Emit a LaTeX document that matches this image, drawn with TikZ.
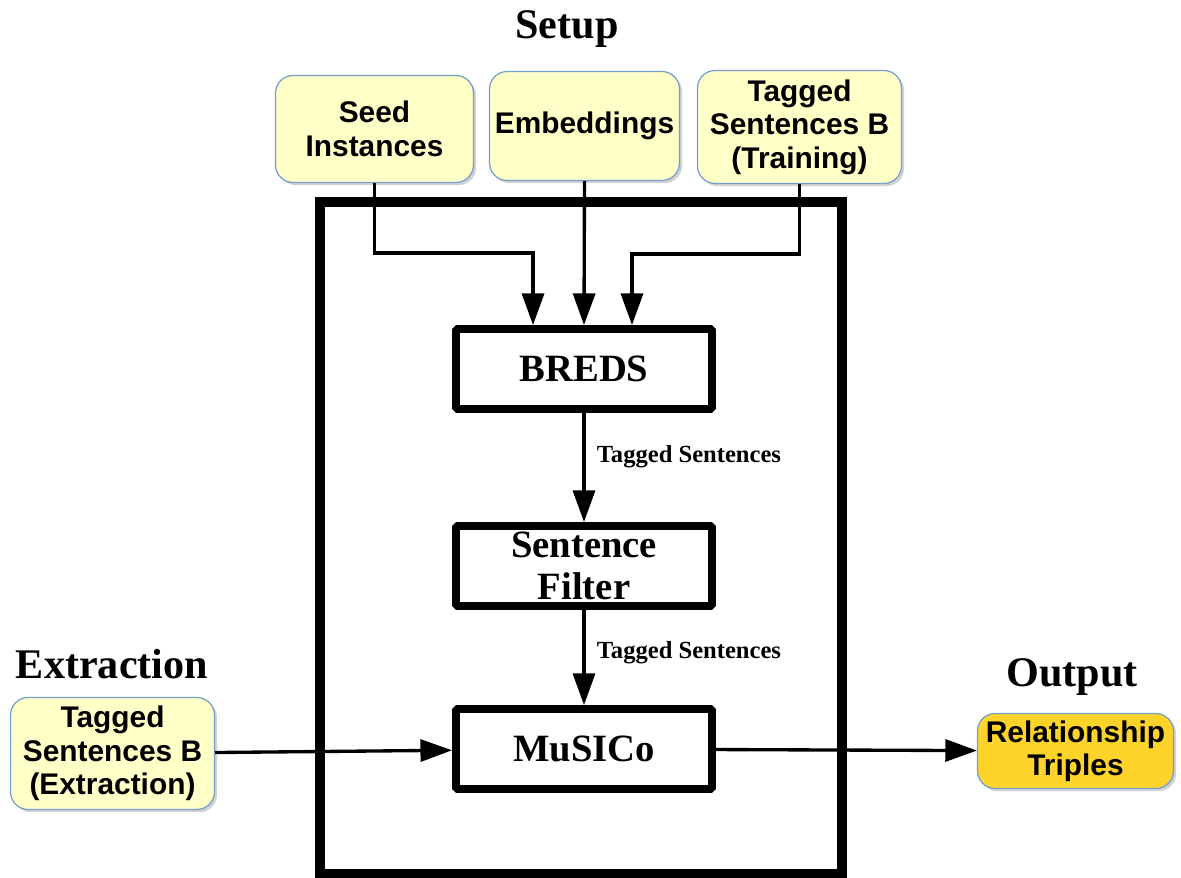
\documentclass[tikz,border=0pt]{standalone}
\usepackage{fontspec}
\setmainfont{Liberation Serif}
\setsansfont{Liberation Sans}
\usetikzlibrary{arrows.meta,shadows}
\definecolor{inputfill}{HTML}{FFFFC8}
\definecolor{outputfill}{HTML}{FFD42A}
\definecolor{boxedge}{HTML}{729FCF}
\begin{document}
\begin{tikzpicture}[
x=0.02cm,y=-0.02cm,
data/.style={draw=boxedge,line width=0.7pt,rounded corners=10pt,fill=inputfill,
  drop shadow={shadow xshift=1.5pt,shadow yshift=-1.5pt,fill=black!35},
  align=center,inner sep=0pt,font=\sffamily\bfseries\fontsize{17}{19}\selectfont},
module/.style={draw,line width=4.5pt,rounded corners=1pt,minimum width=5.12cm,minimum height=1.6cm,
  align=center,inner sep=0pt,font=\bfseries\fontsize{22}{23.5}\selectfont},
title/.style={font=\bfseries\fontsize{24}{26}\selectfont},
flow/.style={font=\bfseries\fontsize{14}{15}\selectfont},
arr/.style={-{Triangle[length=18pt,width=12.5pt]},line width=1.9pt}
]
\useasboundingbox (0,0) rectangle (1181,878);

% titles
\node[title] (setup) at (567,29) {Setup};
\node[title] (extraction) at (112,664) {Extraction};
\node[title] (output) at (1072,677) {Output};

% inputs
\node[data,minimum width=3.96cm,minimum height=2.14cm] (seed) at (374.5,129) {\rule{0pt}{0pt}Seed\\Instances};
\node[data,minimum width=3.8cm,minimum height=2.18cm] (emb) at (584.5,126) {Embeddings};
\node[data,minimum width=4.08cm,minimum height=2.26cm] (train) at (799.5,127) {Tagged\\Sentences B\\(Training)};
\node[data,minimum width=4.08cm,minimum height=2.24cm] (extr) at (112.5,753.5) {Tagged\\Sentences B\\(Extraction)};
\node[data,fill=outputfill,minimum width=3.92cm,minimum height=1.5cm] (triples) at (1075.5,751) {Relationship\\Triples};

% system
\draw[line width=5.4pt] (320,202) rectangle (842,874);
\node[module] (breds) at (584,369) {BREDS};
\node[module] (filter) at (584,566) {Sentence\\Filter};
\node[module] (musico) at (584,749) {MuSICo};

% connectors
\draw[arr] (seed.south) -- ++(0,70) -| ([xshift=-1.02cm]breds.north);
\draw[arr] (emb.south) -- (breds.north);
\draw[arr] (train.south) -- ++(0,70) -| ([xshift=0.96cm]breds.north);
\draw[arr] (breds) -- node[flow,right,pos=0.4,xshift=3pt]{Tagged Sentences} (filter);
\draw[arr] (filter) -- node[flow,right,pos=0.45,xshift=3pt]{Tagged Sentences} (musico);
\draw[arr] (extr) -- (musico);
\draw[arr] (musico) -- (triples);
\end{tikzpicture}
\end{document}
